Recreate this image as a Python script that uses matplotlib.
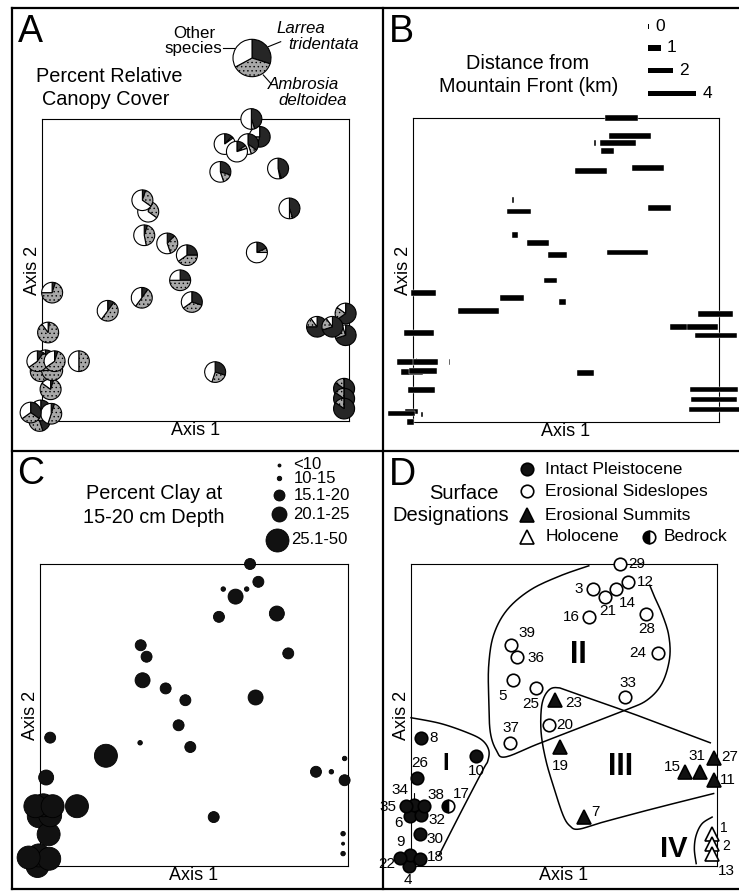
import numpy as np
import matplotlib
matplotlib.use("Agg")
import matplotlib.pyplot as plt
from matplotlib.lines import Line2D

plt.rcParams['font.family'] = ['Liberation Sans', 'DejaVu Sans']
plt.rcParams['hatch.linewidth'] = 0.5

W, H = 739, 891

# ------------------------------------------------------------------ data
site = list(range(1, 40))
axis1 = [0.984, 0.984, 0.595, -0.008, 0.333, -0.004, 0.564, 0.033, -0.004, 0.214,
         0.989, 0.709, 0.984, 0.671, 0.896, 0.581, 0.120, 0.030, 0.488, 0.450,
         0.635, -0.037, 0.472, 0.806, 0.408, 0.020, 0.989, 0.769, 0.682, 0.028,
         0.946, 0.033, 0.700, 0.011, -0.015, 0.346, 0.325, 0.041, 0.327]
axis2 = [0.107, 0.074, 0.917, 0.000, 0.615, 0.165, 0.162, 0.425, 0.035, 0.365,
         0.284, 0.941, 0.041, 0.917, 0.312, 0.825, 0.198, 0.024, 0.394, 0.466,
         0.892, 0.028, 0.549, 0.704, 0.588, 0.293, 0.356, 0.836, 1.000, 0.105,
         0.312, 0.168, 0.558, 0.201, 0.198, 0.693, 0.408, 0.198, 0.731]
surface = ['HO', 'HO', 'ES', 'IP', 'ES', 'IP', 'SU', 'IP', 'IP', 'IP',
           'SU', 'ES', 'HO', 'ES', 'SU', 'ES', 'BR', 'IP', 'SU', 'ES',
           'ES', 'IP', 'SU', 'ES', 'ES', 'IP', 'SU', 'ES', 'ES', 'IP',
           'SU', 'IP', 'ES', 'IP', 'IP', 'ES', 'ES', 'IP', 'ES']
# percent relative canopy cover
larrea = [85, 85, 12, 45, 5, 10, 30, 5, 30, 10,
          70, 55, 85, 35, 75, 30, 0, 5, 30, 25,
          15, 35, 25, 45, 12, 2, 65, 45, 45, 5,
          70, 10, 18, 10, 10, 5, 10, 5, 5]
ambrosia = [15, 15, 3, 50, 42, 75, 25, 70, 60, 50,
            25, 20, 15, 10, 15, 15, 50, 50, 35, 50,
            5, 30, 40, 5, 33, 88, 20, 2, 5, 80,
            20, 80, 7, 60, 55, 30, 50, 60, 30]
other = [0, 0, 85, 5, 53, 15, 45, 25, 10, 40,
         5, 25, 0, 55, 10, 55, 50, 45, 35, 25,
         80, 35, 35, 50, 55, 10, 15, 53, 50, 15,
         10, 10, 75, 30, 35, 65, 40, 35, 65]
legend_pie = [30, 37, 33]
distance_km = [4.0, 3.8, 0, 0.45, 0.4, 1.7, 1.3, 2.0, 1.0, 3.35,
               3.45, 3.4, 4.2, 2.9, 2.75, 2.6, 0, 0, 0.45, 0.95,
               1.0, 2.2, 1.55, 1.8, 1.7, 2.4, 2.85, 2.6, 2.7, 2.1,
               2.5, 2.3, 3.35, 0, 1.8, 1.9, 1.9, 2.0, 0]
dist_legend = [0, 1, 2, 4]
clay_class = [2, 1, 2, 5, 4, 5, 3, 3, 5, 5,
              3, 3, 2, 2, 3, 3, 5, 5, 3, 3,
              4, 5, 3, 3, 3, 4, 2, 4, 3, 5,
              2, 5, 4, 5, 5, 3, 2, 5, 3]
clay_labels = ['<10', '10-15', '15.1-20', '20.1-25', '25.1-50']
surface_names = {'IP': 'Intact Pleistocene', 'ES': 'Erosional Sideslopes',
                 'SU': 'Erosional Summits', 'HO': 'Holocene', 'BR': 'Bedrock'}

# ------------------------------------------------------------------ layout / style
fig = plt.figure(figsize=(W / 100, H / 100), dpi=100)
TITLE_FS = 14.3
AXLAB_FS = 13


def box_axes(x0, y0, x1, y1):
    ax = fig.add_axes([x0 / W, 1 - y1 / H, (x1 - x0) / W, (y1 - y0) / H])
    ax.set_xlim(0, 1)
    ax.set_ylim(0, 1)
    ax.set_xticks([])
    ax.set_yticks([])
    for s in ax.spines.values():
        s.set_linewidth(0.8)
    ax.set_xlabel('Axis 1', fontsize=AXLAB_FS, labelpad=1)
    ax.set_ylabel('Axis 2', fontsize=AXLAB_FS, labelpad=1)
    return ax


def px2data(ax, x, y):
    return ax.transData.inverted().transform((x, H - y))


def ftext(x, y, s, **kw):
    fig.text(x / W, 1 - y / H, s, **kw)


def fline(xs, ys, lw=0.8):
    fig.add_artist(Line2D([x / W for x in xs], [1 - y / H for y in ys],
                          transform=fig.transFigure, color='black', lw=lw))


def smooth(pts, n=14):
    P = np.asarray(pts, float)
    P = np.vstack([P[0], P, P[-1]])
    out = []
    for i in range(1, len(P) - 2):
        p0, p1, p2, p3 = P[i - 1], P[i], P[i + 1], P[i + 2]
        t = np.linspace(0, 1, n, endpoint=False)[:, None]
        seg = 0.5 * ((2 * p1) + (-p0 + p2) * t + (2 * p0 - 5 * p1 + 4 * p2 - p3) * t ** 2
                     + (-p0 + 3 * p1 - 3 * p2 + p3) * t ** 3)
        out.append(seg)
    out.append(P[-2][None])
    return np.vstack(out)


# outer frame
for xs, ys in [([12, 739], [8, 8]), ([12, 12], [8, 889]), ([383, 383], [8, 889]),
               ([12, 739], [451, 451]), ([12, 739], [889, 889])]:
    fline(xs, ys, lw=1.6)

letter_kw = dict(fontsize=27, ha='left', va='baseline')
ftext(18, 42, 'A', **letter_kw)
ftext(389, 42, 'B', **letter_kw)
ftext(17, 484, 'C', **letter_kw)
ftext(389, 485, 'D', **letter_kw)

pie_colors = ['#262626', '#a8a8a8', 'white']

# ------------------------------------------------------------------ panel A
axA = box_axes(42, 119, 349, 421)
r_pie = 10.5 / 307


def draw_pie(ax, fr, c, r):
    wedges, _ = ax.pie(fr, center=c, radius=r, startangle=90, counterclock=False,
                       colors=pie_colors, frame=True,
                       wedgeprops=dict(edgecolor='black', linewidth=0.8))
    for k, w in enumerate(wedges):
        w.set_clip_on(False)
        w.set_zorder(3)
        if k == 1:
            w.set_hatch('....')


def reset_axes(ax):
    ax.set_xlim(0, 1)
    ax.set_ylim(0, 1)
    ax.set_aspect('auto')
    ax.set_xticks([])
    ax.set_yticks([])
    ax.set_frame_on(True)


for i in range(len(site)):
    draw_pie(axA, [larrea[i], ambrosia[i], other[i]], (axis1[i], axis2[i]), r_pie)
reset_axes(axA)
cx, cy = px2data(axA, 252, 58)
draw_pie(axA, legend_pie, (cx, cy), 19 / 307)
reset_axes(axA)

ftext(109, 82, 'Percent Relative', fontsize=TITLE_FS, ha='center', va='baseline')
ftext(106, 105, 'Canopy Cover', fontsize=TITLE_FS, ha='center', va='baseline')
ftext(215, 37.5, 'Other', fontsize=12.2, ha='right', va='baseline')
ftext(222.5, 52.5, 'species', fontsize=12.2, ha='right', va='baseline')
fline([223, 233.5], [48.3, 48.3])
ftext(276.7, 33.3, 'Larrea', fontsize=12.2, style='italic', ha='left', va='baseline')
ftext(288.3, 49.3, 'tridentata', fontsize=12.2, style='italic', ha='left', va='baseline')
fline([268.3, 280.7], [46.7, 41.7])
ftext(268.3, 89.3, 'Ambrosia', fontsize=12.2, style='italic', ha='left', va='baseline')
ftext(278.3, 105, 'deltoidea', fontsize=12.2, style='italic', ha='left', va='baseline')
fline([263.3, 270.7], [75, 83.3])

# ------------------------------------------------------------------ panel B
axB = box_axes(413, 118, 719, 422)
bar_h = 5.5 / 304
px_per_km, base_px = 11.8, 1.5
widths = (base_px + px_per_km * np.array(distance_km)) / 306
axB.barh(axis2, widths, left=np.array(axis1) - widths / 2, height=bar_h,
         color='black', edgecolor='white', linewidth=0.3, clip_on=False, zorder=3)
leg_y_px = [26.7, 48, 70.7, 93.3]
for km, ypx in zip(dist_legend, leg_y_px):
    wpx = base_px + px_per_km * km
    x0, y0 = px2data(axB, 647.7, ypx)
    x1, _ = px2data(axB, 647.7 + wpx, ypx)
    axB.barh([y0], [x1 - x0], left=[x0], height=bar_h, color='black',
             clip_on=False, zorder=3)
    ftext(647.7 + wpx + 6, ypx, str(km), fontsize=12.5, ha='left', va='center')
axB.set_xlim(0, 1)
axB.set_ylim(0, 1)
ftext(527, 69.3, 'Distance from', fontsize=TITLE_FS, ha='center', va='baseline')
ftext(529, 91.7, 'Mountain Front (km)', fontsize=TITLE_FS, ha='center', va='baseline')

# ------------------------------------------------------------------ panel C
axC = box_axes(40, 564, 348, 866)
clay_diam_px = [3, 4.5, 11, 15, 23]
sizes = [(clay_diam_px[c - 1] * 0.72) ** 2 for c in clay_class]
axC.scatter(axis1, axis2, s=sizes, color='#111111', edgecolors='black', linewidths=0.6,
            clip_on=False, zorder=3)
leg_pos = [(279.3, 465), (279.3, 478.3), (279.3, 495), (279.3, 514.3), (276.7, 540)]
for k, (lab, (xp, yp)) in enumerate(zip(clay_labels, leg_pos)):
    dx, dy = px2data(axC, xp, yp)
    axC.scatter([dx], [dy], s=(clay_diam_px[k] * 0.72) ** 2, color='#111111',
                edgecolors='black', linewidths=0.6, clip_on=False, zorder=3)
    ftext(293.3 if k < 4 else 291.5, yp, lab, fontsize=12, ha='left', va='center')
axC.set_xlim(0, 1)
axC.set_ylim(0, 1)
ftext(154, 499.3, 'Percent Clay at', fontsize=TITLE_FS, ha='center', va='baseline')
ftext(154, 522.7, '15-20 cm Depth', fontsize=TITLE_FS, ha='center', va='baseline')

# ------------------------------------------------------------------ panel D
axD = box_axes(411, 564, 717, 866)
mstyle = {
    'IP': dict(marker='o', markersize=9, markerfacecolor='#111111', markeredgecolor='black'),
    'ES': dict(marker='o', markersize=9, markerfacecolor='white', markeredgecolor='black'),
    'SU': dict(marker='^', markersize=10, markerfacecolor='#111111', markeredgecolor='black'),
    'HO': dict(marker='^', markersize=10, markerfacecolor='white', markeredgecolor='black'),
    'BR': dict(marker='o', markersize=9, markerfacecolor='black', markeredgecolor='black',
               fillstyle='left', markerfacecoloralt='white'),
}
for key in ['IP', 'ES', 'SU', 'HO', 'BR']:
    xs = [axis1[i] for i in range(len(site)) if surface[i] == key]
    ys = [axis2[i] for i in range(len(site)) if surface[i] == key]
    axD.plot(xs, ys, linestyle='none', markeredgewidth=1.2, clip_on=False, zorder=4,
             **mstyle[key])

# hull outlines (axes fractions)
hulls = [
    [(0.0, 0.491), (0.096, 0.472), (0.183, 0.442), (0.232, 0.417), (0.254, 0.384),
     (0.251, 0.348), (0.235, 0.318), (0.162, 0.176), (0.090, 0.033)],
    [(0.581, 0.994), (0.488, 0.961), (0.390, 0.914), (0.314, 0.848), (0.270, 0.765),
     (0.254, 0.665), (0.254, 0.555), (0.259, 0.444), (0.279, 0.383), (0.308, 0.361),
     (0.412, 0.403), (0.565, 0.463), (0.700, 0.516), (0.771, 0.549), (0.820, 0.604),
     (0.845, 0.687), (0.842, 0.765), (0.820, 0.836), (0.798, 0.886), (0.780, 0.930)],
    [(0.978, 0.408), (0.739, 0.499), (0.521, 0.577), (0.483, 0.590), (0.455, 0.586),
     (0.434, 0.557), (0.425, 0.510), (0.426, 0.433), (0.442, 0.345), (0.468, 0.256),
     (0.497, 0.168), (0.519, 0.133), (0.548, 0.122), (0.630, 0.146), (0.793, 0.190),
     (0.989, 0.240)],
    [(0.984, 0.162), (0.951, 0.140), (0.932, 0.102), (0.926, 0.057), (0.932, 0.008)],
]
for h in hulls:
    c = smooth(h)
    axD.plot(c[:, 0], c[:, 1], color='black', lw=1.1, clip_on=False, zorder=3)

roman = [('I', 0.112, 0.339, 17), ('II', 0.548, 0.698, 22), ('III', 0.684, 0.328, 22),
         ('IV', 0.858, 0.057, 21)]
for s, x, y, fs in roman:
    axD.text(x, y, s, fontsize=fs, fontweight='bold', ha='center', va='center', zorder=3.5)

# label offsets (in points)
label_off = {29: (12.5, 0), 12: (12.5, 0), 3: (-10, 0), 21: (2, -10.5), 14: (8, -10),
             16: (-12.5, 0), 28: (0, -11), 39: (11.5, 8.6), 36: (14, -0.7),
             24: (-14, 0), 5: (-7.2, -11.5), 25: (-3.6, -11.5), 23: (13.5, -2),
             33: (1.7, 10.5), 20: (11.2, 0.5), 37: (0, 11), 19: (0, -13.5),
             8: (8.8, 0), 10: (0, -11), 26: (2, 10.5), 17: (10, 8.6),
             35: (-13.5, -0.7), 38: (8.6, 8), 6: (-8, -5), 32: (11.2, -3.6),
             30: (11.2, -3.6), 22: (-9, -4.5), 18: (11.2, 1.2), 4: (-0.7, -10),
             15: (-9.5, 3.1), 31: (-2.4, 11), 27: (11.2, 1.2), 11: (10.5, 0),
             7: (8.6, 3.6), 1: (8.6, 4.0), 2: (10, -2.0), 13: (10, -12.5)}
leader = {34: (-10.5, 11), 9: (-6.5, 10)}
LAB_FS = 11
for i, sid in enumerate(site):
    fs = LAB_FS if sid not in (1, 2) else 10
    if sid in label_off:
        axD.annotate(str(sid), (axis1[i], axis2[i]), xytext=label_off[sid],
                     textcoords='offset points', fontsize=fs, ha='center', va='center',
                     zorder=3.5, annotation_clip=False)
    else:
        axD.annotate(str(sid), (axis1[i], axis2[i]), xytext=leader[sid],
                     textcoords='offset points', fontsize=fs, ha='center', va='center',
                     zorder=3.5, annotation_clip=False,
                     arrowprops=dict(arrowstyle='-', lw=0.8, shrinkA=3, shrinkB=4,
                                     connectionstyle=('angle,angleA=0,angleB=90,rad=0'
                                                      if sid == 34 else 'arc3')))
axD.set_xlim(0, 1)
axD.set_ylim(0, 1)

# legend of D
leg_items = [('IP', 526.7, 469), ('ES', 526.7, 491), ('SU', 526.7, 515), ('HO', 526.7, 536.7),
             ('BR', 649.3, 536.7)]
for key, xp, yp in leg_items:
    dx, dy = px2data(axD, xp, yp)
    axD.plot([dx], [dy], linestyle='none', markeredgewidth=1.2, clip_on=False, zorder=4,
             **mstyle[key])
    ftext(xp + 18.5 if key != 'BR' else 663.3, yp, surface_names[key], fontsize=12.5,
          ha='left', va='center')
axD.set_xlim(0, 1)
axD.set_ylim(0, 1)
ftext(463.5, 499, 'Surface', fontsize=14.5, ha='center', va='baseline')
ftext(450.7, 521, 'Designations', fontsize=14.5, ha='center', va='baseline')

fig.savefig('out.png', dpi=100)
